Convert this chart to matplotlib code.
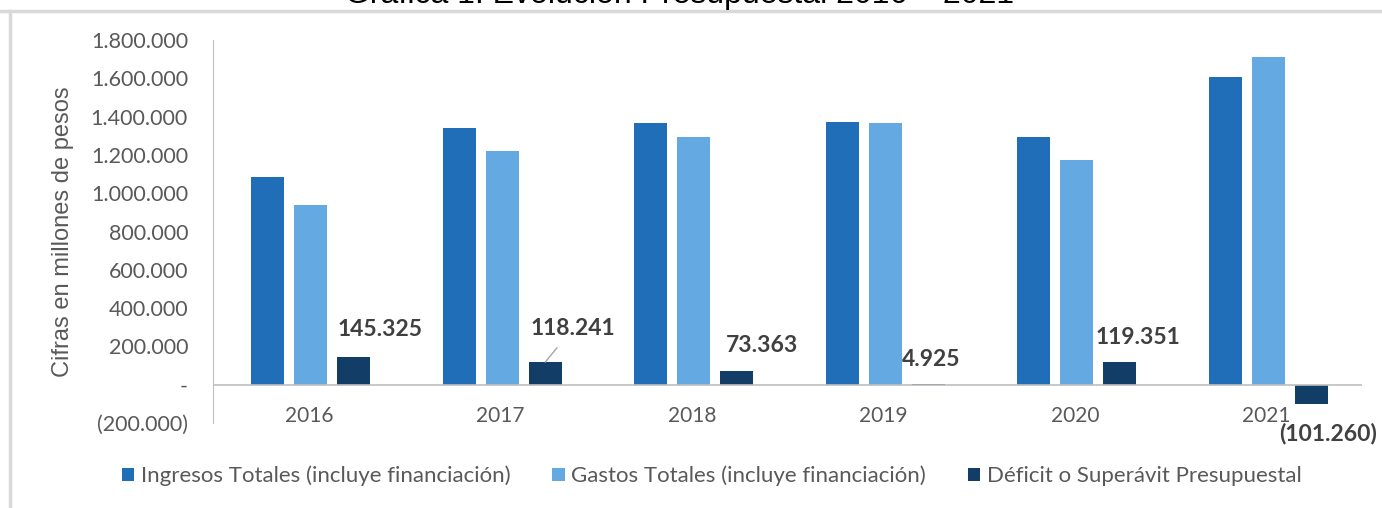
import matplotlib.pyplot as plt
from matplotlib.lines import Line2D
import numpy as np

years = ['2016', '2017', '2018', '2019', '2020', '2021']
ingresos = [1085000, 1340000, 1367000, 1372000, 1294000, 1608000]
gastos = [939675, 1221759, 1293637, 1367075, 1174649, 1709260]
deficit = [145325, 118241, 73363, 4925, 119351, -101260]

series_names = ['Ingresos Totales (incluye financiación)',
                'Gastos Totales (incluye financiación)',
                'Déficit o Superávit Presupuestal']
colors = ['#1F6EB7', '#65A9E3', '#123D66']

# label offsets in pixels (excel placed them by hand)
label_offsets = [(26, 27), (28, 34), (25, 25), (3, 24), (18, 24), (17, -29)]

body = ['Lato', 'DejaVu Sans']
arial = ['Liberation Sans', 'DejaVu Sans']


def fmt(v):
    if v == 0:
        return '-'
    s = f'{abs(v):,.0f}'.replace(',', '.')
    return f'({s})' if v < 0 else s


fig = plt.figure(figsize=(13.82, 5.08), dpi=100)
ax = fig.add_axes([213 / 1382, 1 - 423 / 508, (1362 - 213) / 1382, 383 / 508])

x = np.arange(len(years))
w = 0.173
off = 0.225
ax.bar(x - off + 0.01, ingresos, w, color=colors[0], label=series_names[0])
ax.bar(x + 0.01, gastos, w, color=colors[1], label=series_names[1])
bars = ax.bar(x + off + 0.01, deficit, w, color=colors[2], label=series_names[2])

for i, b in enumerate(bars):
    v = deficit[i]
    xy = (b.get_x() + b.get_width() / 2, v)
    arrow = None
    if i == 1:
        arrow = dict(arrowstyle='-', color='#a6a6a6', lw=1, shrinkA=6, shrinkB=0)
    ax.annotate(fmt(v), xy=xy, xytext=label_offsets[i], textcoords='offset pixels',
                ha='center', va='center', fontsize=16.5, fontweight='bold',
                color='#404040', family=body, arrowprops=arrow)

ax.set_xlim(-0.5, len(years) - 0.5)
ax.set_ylim(-200000, 1800000)
yt = np.arange(-200000, 1800001, 200000)
ax.set_yticks(yt)
ax.set_yticklabels([fmt(v) for v in yt], family=body, fontsize=15.5, color='#595959')
ax.set_xticks(x)
ax.set_xticklabels(years, family=body, fontsize=15, color='#595959')
ax.tick_params(axis='y', length=0, pad=18)
ax.tick_params(axis='x', length=0, pad=-12)

for s in ['top', 'right', 'bottom']:
    ax.spines[s].set_visible(False)
ax.spines['left'].set_color('#bfbfbf')
ax.axhline(0, color='#bfbfbf', lw=1.2)

ax.set_ylabel('Cifras en millones de pesos', family=arial,
              fontsize=17, color='#595959', labelpad=12)

fig.legend(loc='center', bbox_to_anchor=(0.515, 1 - 476 / 508), ncol=3, frameon=False,
           prop={'family': body, 'size': 16}, labelcolor='#595959',
           handlelength=0.55, handleheight=0.55, handletextpad=0.3, columnspacing=1.9)

# clipped title at the very top and the grey frame
fig.text(680 / 1382, 1 - 3 / 508, 'Gráfica 1. Evolución Presupuestal 2016 – 2021',
         ha='center', va='baseline', fontsize=23, family=arial, color='#000000')
fig.add_artist(Line2D([0, 1], [1 - 11 / 508, 1 - 11 / 508], color='#d9d9d9', lw=2.5,
                      transform=fig.transFigure))
fig.add_artist(Line2D([10 / 1382, 10 / 1382], [0, 1 - 11 / 508], color='#d9d9d9', lw=2.5,
                      transform=fig.transFigure))

plt.savefig('out.png', dpi=100)
